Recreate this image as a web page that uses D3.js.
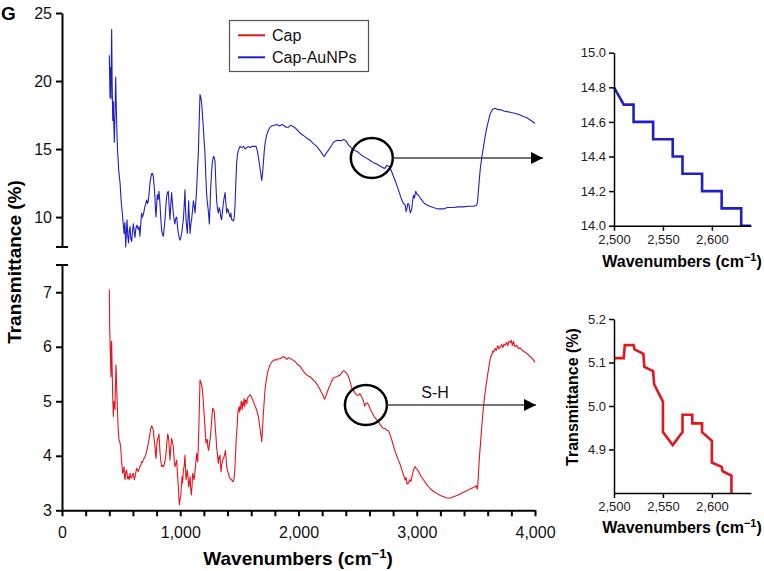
<!DOCTYPE html>
<html><head><meta charset="utf-8">
<script src="https://cdn.jsdelivr.net/npm/d3@7"></script>
<style>body{margin:0;background:#fff}svg{display:block;font-family:"Liberation Sans",Arial,sans-serif}</style>
</head><body><svg id="c" width="764" height="571"></svg>
<script>
// ---------------- data ----------------
const seriesNames = ["Cap", "Cap-AuNPs"];
const capAuNPs = [[400,21.9],[406,18.8],[410,21.0],[414,18.7],[418,22.5],[420,23.8],[424,20.0],[429,17.1],[434,18.5],[438,16.8],[443,15.5],[449,18.0],[454,20.3],[458,18.5],[462,17.1],[467,15.5],[471,14.7],[481,13.3],[491,12.5],[500,11.2],[510,10.3],[518,9.5],[525,8.8],[532,9.6],[539,7.8],[545,9.0],[550,9.8],[556,8.6],[563,8.1],[569,9.0],[575,9.3],[582,8.4],[589,8.2],[596,8.9],[603,9.5],[610,9.0],[617,8.5],[624,9.1],[631,9.4],[638,9.3],[645,9.1],[652,9.3],[659,8.6],[666,9.5],[673,10.3],[680,10.0],[688,10.2],[695,10.5],[702,10.8],[709,11.0],[716,11.25],[723,11.0],[730,11.2],[737,11.8],[744,12.5],[751,12.9],[758,13.2],[765,13.2],[772,13.0],[779,12.3],[786,11.5],[790,10.6],[795,10.0],[800,10.8],[806,11.65],[813,11.3],[820,11.9],[825,11.4],[829,10.9],[836,9.8],[843,9.0],[850,8.7],[857,8.6],[864,9.2],[871,9.8],[878,10.8],[885,11.5],[892,11.8],[899,11.9],[906,10.8],[913,9.8],[920,10.9],[927,11.8],[934,11.0],[941,10.3],[948,9.8],[955,9.5],[962,9.9],[970,10.0],[977,9.3],[984,8.8],[991,8.5],[998,8.3],[1005,8.5],[1012,8.8],[1019,9.3],[1026,9.8],[1033,10.8],[1040,12.0],[1045,10.5],[1049,9.8],[1055,9.2],[1060,8.8],[1066,10.0],[1071,11.2],[1077,9.8],[1083,8.8],[1090,9.5],[1097,9.9],[1104,10.5],[1111,11.2],[1118,10.8],[1125,10.3],[1132,11.2],[1139,12.1],[1146,13.5],[1153,14.7],[1160,17.0],[1167,19.0],[1174,18.8],[1181,18.4],[1188,17.5],[1195,16.6],[1202,15.6],[1209,14.7],[1216,13.0],[1223,11.7],[1230,11.0],[1237,10.5],[1246,9.5],[1252,10.8],[1257,12.0],[1264,13.2],[1271,14.0],[1280,14.45],[1287,14.4],[1294,14.1],[1301,12.5],[1308,11.2],[1315,10.6],[1322,10.3],[1329,10.7],[1336,10.5],[1343,10.0],[1350,9.8],[1357,10.4],[1364,11.0],[1371,11.4],[1379,11.8],[1386,11.0],[1393,10.3],[1400,10.6],[1407,10.5],[1414,10.2],[1421,10.0],[1428,10.3],[1435,9.8],[1442,9.8],[1449,9.7],[1456,9.9],[1463,10.8],[1470,12.5],[1477,14.0],[1484,14.6],[1492,14.9],[1506,15.2],[1520,15.1],[1535,15.2],[1550,15.0],[1562,15.1],[1575,15.2],[1590,15.1],[1607,15.2],[1625,15.2],[1641,15.2],[1651,14.9],[1661,14.4],[1671,13.8],[1681,13.2],[1689,12.7],[1696,13.2],[1703,14.0],[1710,14.8],[1717,15.4],[1730,16.0],[1746,16.4],[1760,16.6],[1774,16.7],[1795,16.75],[1816,16.8],[1840,16.7],[1860,16.8],[1873,16.75],[1895,16.6],[1915,16.6],[1930,16.75],[1943,16.7],[1965,16.6],[1985,16.45],[2010,16.2],[2041,16.0],[2070,15.8],[2098,15.65],[2125,15.4],[2155,15.2],[2180,14.9],[2197,14.7],[2210,14.5],[2219,14.45],[2235,14.7],[2253,14.9],[2275,15.2],[2296,15.5],[2315,15.6],[2338,15.65],[2360,15.6],[2380,15.7],[2394,15.65],[2410,15.5],[2422,15.3],[2445,15.1],[2465,14.95],[2500,14.8],[2520,14.65],[2549,14.45],[2570,14.35],[2600,14.2],[2634,14.0],[2660,13.9],[2690,13.75],[2718,13.6],[2733,13.6],[2747,13.8],[2769,13.7],[2785,13.4],[2803,13.0],[2825,12.5],[2845,12.0],[2860,11.6],[2874,11.25],[2888,11.0],[2902,10.9],[2910,10.4],[2916,10.6],[2925,11.0],[2935,10.9],[2945,10.3],[2958,10.6],[2965,11.2],[2972,11.6],[2980,11.4],[2992,11.9],[3000,11.7],[3015,11.6],[3030,11.4],[3043,11.25],[3065,11.0],[3085,10.9],[3110,10.8],[3141,10.7],[3180,10.6],[3226,10.6],[3260,10.7],[3310,10.7],[3350,10.75],[3395,10.75],[3440,10.8],[3480,10.8],[3500,10.85],[3508,10.9],[3515,11.2],[3522,12.0],[3536,13.45],[3550,14.4],[3565,15.2],[3580,16.0],[3593,16.6],[3607,17.1],[3621,17.6],[3640,17.9],[3663,18.0],[3685,17.9],[3706,17.9],[3735,17.8],[3762,17.75],[3790,17.7],[3818,17.65],[3845,17.6],[3875,17.5],[3900,17.4],[3931,17.3],[3965,17.1],[4000,16.9]];
const cap = [[400,7.05],[403,6.4],[406,6.12],[410,5.8],[414,5.45],[418,6.1],[420,6.09],[424,5.6],[429,5.08],[434,4.72],[438,5.0],[443,4.9],[448,4.85],[452,5.3],[457,5.67],[462,5.3],[468,4.9],[475,4.5],[482,4.29],[489,4.25],[496,4.17],[504,3.9],[513,3.68],[519,3.72],[525,3.8],[529,3.62],[533,3.56],[540,3.7],[547,3.74],[554,3.58],[561,3.62],[568,3.56],[575,3.68],[582,3.6],[589,3.59],[596,3.66],[603,3.68],[608,3.6],[612,3.56],[620,3.64],[631,3.77],[638,3.74],[645,3.71],[652,3.76],[659,3.8],[666,3.82],[673,3.89],[680,3.88],[688,3.92],[695,3.96],[702,3.98],[709,4.02],[716,4.1],[723,4.15],[730,4.23],[737,4.32],[744,4.41],[751,4.5],[758,4.55],[765,4.52],[772,4.47],[779,4.3],[786,4.17],[790,4.05],[795,3.95],[800,4.15],[806,4.29],[813,4.33],[820,4.4],[825,4.2],[829,4.05],[836,3.9],[843,3.8],[850,3.82],[857,3.8],[863,3.83],[870,3.9],[877,3.98],[885,4.2],[894,4.4],[900,4.35],[905,4.23],[913,3.92],[920,4.15],[927,4.32],[934,4.25],[941,4.17],[948,3.95],[955,3.8],[962,3.85],[970,3.92],[977,3.65],[984,3.43],[989,3.2],[993,3.1],[998,3.2],[1004,3.25],[1010,3.45],[1015,3.62],[1020,3.5],[1026,3.74],[1033,3.8],[1040,4.01],[1045,3.75],[1049,3.56],[1055,3.65],[1060,3.74],[1066,3.6],[1071,3.43],[1077,3.5],[1083,3.62],[1088,3.4],[1094,3.28],[1100,3.45],[1105,3.68],[1111,3.62],[1117,3.56],[1124,3.7],[1131,3.86],[1135,3.95],[1139,4.04],[1143,3.95],[1148,3.89],[1153,4.2],[1159,4.66],[1163,5.0],[1167,5.39],[1174,5.35],[1181,5.3],[1188,5.2],[1195,4.99],[1202,4.75],[1209,4.54],[1214,4.35],[1218,4.23],[1224,4.3],[1229,4.29],[1234,4.15],[1240,4.1],[1246,4.2],[1252,4.29],[1259,4.45],[1266,4.66],[1274,4.87],[1281,4.85],[1288,4.8],[1295,4.55],[1302,4.35],[1308,4.15],[1314,4.04],[1318,3.95],[1322,3.86],[1329,3.98],[1336,4.01],[1340,3.85],[1345,3.71],[1352,3.85],[1359,3.92],[1366,3.95],[1373,4.01],[1378,4.05],[1382,4.1],[1388,3.95],[1393,3.8],[1400,3.72],[1407,3.68],[1414,3.62],[1421,3.59],[1428,3.57],[1435,3.56],[1442,3.53],[1449,3.53],[1455,3.58],[1460,3.7],[1464,3.86],[1469,4.1],[1473,4.3],[1478,4.45],[1483,4.6],[1487,4.8],[1492,4.84],[1497,4.9],[1502,4.8],[1506,4.9],[1510,4.85],[1515,5.0],[1520,4.99],[1524,4.85],[1528,4.97],[1534,4.93],[1540,5.05],[1545,4.9],[1550,5.02],[1557,5.02],[1563,4.95],[1568,5.06],[1576,5.08],[1583,5.1],[1590,5.12],[1597,5.1],[1604,5.07],[1614,5.02],[1624,4.96],[1635,4.9],[1647,4.84],[1654,4.78],[1661,4.72],[1668,4.6],[1675,4.5],[1682,4.38],[1689,4.26],[1696,4.5],[1703,4.78],[1710,5.0],[1717,5.21],[1727,5.38],[1737,5.51],[1748,5.6],[1760,5.67],[1774,5.72],[1788,5.75],[1800,5.76],[1816,5.76],[1830,5.78],[1844,5.78],[1858,5.8],[1873,5.82],[1887,5.8],[1901,5.77],[1915,5.8],[1929,5.79],[1950,5.76],[1971,5.73],[1990,5.68],[2014,5.64],[2035,5.57],[2056,5.51],[2078,5.47],[2098,5.45],[2120,5.4],[2140,5.36],[2160,5.3],[2177,5.24],[2192,5.17],[2205,5.12],[2215,5.06],[2222,5.04],[2232,5.1],[2245,5.18],[2257,5.25],[2267,5.3],[2280,5.37],[2293,5.42],[2308,5.44],[2323,5.45],[2338,5.47],[2352,5.48],[2365,5.52],[2380,5.56],[2392,5.55],[2402,5.53],[2412,5.5],[2423,5.45],[2437,5.35],[2451,5.24],[2465,5.2],[2479,5.15],[2493,5.11],[2507,5.11],[2520,5.14],[2535,5.08],[2550,5.0],[2560,4.91],[2570,4.96],[2580,4.97],[2592,4.94],[2606,4.86],[2620,4.8],[2640,4.72],[2662,4.66],[2683,4.6],[2705,4.53],[2720,4.5],[2733,4.5],[2747,4.47],[2761,4.46],[2775,4.38],[2789,4.29],[2803,4.18],[2817,4.08],[2831,4.0],[2845,3.92],[2860,3.84],[2874,3.74],[2888,3.65],[2902,3.56],[2910,3.6],[2918,3.48],[2930,3.5],[2940,3.56],[2950,3.53],[2960,3.62],[2972,3.74],[2985,3.8],[2995,3.77],[3005,3.75],[3015,3.71],[3035,3.63],[3057,3.56],[3085,3.47],[3113,3.4],[3140,3.35],[3170,3.31],[3200,3.27],[3226,3.25],[3250,3.23],[3268,3.22],[3290,3.23],[3310,3.25],[3340,3.27],[3367,3.3],[3395,3.33],[3423,3.36],[3450,3.39],[3480,3.42],[3503,3.45],[3510,3.4],[3514,3.39],[3520,3.6],[3530,3.98],[3540,4.25],[3550,4.53],[3560,4.8],[3570,5.02],[3582,5.22],[3593,5.39],[3604,5.55],[3615,5.7],[3625,5.82],[3635,5.85],[3642,5.92],[3650,5.9],[3663,5.97],[3672,5.93],[3685,6.02],[3694,5.96],[3706,6.0],[3718,6.04],[3727,5.98],[3738,6.05],[3748,6.03],[3760,6.08],[3770,6.02],[3780,6.1],[3790,6.08],[3800,6.12],[3808,6.02],[3818,6.1],[3830,6.0],[3846,6.03],[3860,5.97],[3875,5.98],[3889,5.94],[3910,5.91],[3931,5.88],[3950,5.84],[3974,5.79],[4000,5.72]];
// inset (zoom of S-H region)
const insetAuWn = [2500,2510,2520,2520,2540,2540,2560,2560,2570,2570,2590,2590,2610,2610,2630,2630,2640];
const insetAuT  = [14.8,14.7,14.7,14.6,14.6,14.5,14.5,14.4,14.4,14.3,14.3,14.2,14.2,14.1,14.1,14.0,14.0];
const insetCapWn = [2500,2510,2511,2520,2521,2530,2531,2540,2541,2550,2550,2560,2570,2570,2580,2580,2590,2590,2600,2600,2610,2611,2620,2620];
const insetCapT  = [5.11,5.11,5.14,5.14,5.13,5.12,5.09,5.08,5.05,5.01,4.94,4.91,4.94,4.98,4.98,4.96,4.96,4.94,4.92,4.87,4.86,4.85,4.84,4.80];
const mainXTicks = [0,1000,2000,3000,4000];
const topYTicks = [10,15,20,25];
const botYTicks = [3,4,5,6,7];
const insetXTicks = [2500,2550,2600];
const inset1YTicks = [14.0,14.2,14.4,14.6,14.8,15.0];
const inset2YTicks = [4.9,5.0,5.1,5.2];

const RED = "#e3151e", BLUE = "#1f1fc9";
const svg = d3.select("#c");

// ---------------- scales ----------------
const x = d3.scaleLinear().domain([0,4000]).range([62,535]);
const yTop = d3.scaleLinear().domain([7.8,25]).range([247,13]);
const yBot = d3.scaleLinear().domain([3,7.5]).range([510.3,265]);

const line = (ys) => d3.line().x(d=>x(d[0])).y(d=>ys(d[1]));

svg.append("path").datum(capAuNPs).attr("d", line(yTop)).attr("fill","none").attr("stroke",BLUE).attr("stroke-width",1.1).attr("stroke-linejoin","round");
svg.append("path").datum(cap).attr("d", line(yBot)).attr("fill","none").attr("stroke",RED).attr("stroke-width",1.1).attr("stroke-linejoin","round");

// axes
function styleAxis(g, fs){
  g.selectAll("text").attr("font-size",fs).attr("fill","#111").attr("font-family","Liberation Sans, Arial, sans-serif");
  g.selectAll("line").attr("stroke","#000").attr("stroke-width",2);
  g.select(".domain").attr("stroke","#000").attr("stroke-width",2);
}
const fmtInt = d3.format("d");
const gyT = svg.append("g").attr("transform","translate(62,0)")
  .call(d3.axisLeft(yTop).tickValues(topYTicks).tickSize(6).tickSizeOuter(0).tickPadding(4).tickFormat(fmtInt));
styleAxis(gyT,16);
const gyB = svg.append("g").attr("transform","translate(62,0)")
  .call(d3.axisLeft(yBot).tickValues(botYTicks).tickSize(6).tickSizeOuter(0).tickPadding(4).tickFormat(fmtInt));
styleAxis(gyB,16);
// break caps
[247,265].forEach(yy=>svg.append("line").attr("x1",56).attr("x2",68).attr("y1",yy).attr("y2",yy).attr("stroke","#000").attr("stroke-width",2));

const gx = svg.append("g").attr("transform","translate(0,510.3)")
  .call(d3.axisBottom(x).tickValues(d3.range(0,4001,200)).tickSize(6).tickSizeOuter(0).tickPadding(10)
    .tickFormat(d=> mainXTicks.includes(d) ? d3.format(",")(d) : ""));
styleAxis(gx,16);

// titles
svg.append("text").attr("x",1).attr("y",20).text("G").attr("font-weight","bold").attr("font-size",19);
svg.append("text").attr("transform","translate(21,262) rotate(-90)").attr("text-anchor","middle")
  .attr("font-weight","bold").attr("font-size",19).text("Transmittance (%)");
svg.append("text").attr("x",298).attr("y",565).attr("text-anchor","middle")
  .attr("font-weight","bold").attr("font-size",19).html("Wavenumbers (cm<tspan font-size='13' dy='-7'>−1</tspan><tspan dy='7'>)</tspan>");

// legend
svg.append("rect").attr("x",229.5).attr("y",20.5).attr("width",139).attr("height",51).attr("fill","#fff").attr("stroke","#555").attr("stroke-width",1.2);
[[RED,35.3,seriesNames[0]],[BLUE,57.3,seriesNames[1]]].forEach(([c,yy,t])=>{
  svg.append("line").attr("x1",238).attr("x2",265).attr("y1",yy).attr("y2",yy).attr("stroke",c).attr("stroke-width",2);
  svg.append("text").attr("x",272).attr("y",yy+5.5).attr("font-size",16).attr("fill","#111").text(t);
});

// circles and arrows
svg.append("defs").append("marker").attr("id","ah").attr("viewBox","0 0 10 10").attr("refX",10).attr("refY",5)
  .attr("markerUnits","userSpaceOnUse").attr("markerWidth",18).attr("markerHeight",12).attr("orient","auto")
  .append("path").attr("d","M0,0L10,5L0,10Z").attr("fill","#000");
function marker(cx,cy,x2){
  svg.append("ellipse").attr("cx",x(cx)).attr("cy",cy).attr("rx",21).attr("ry",20).attr("fill","none").attr("stroke","#000").attr("stroke-width",2.5);
  svg.append("line").attr("x1",x(cx)+21).attr("x2",x2).attr("y1",cy).attr("y2",cy).attr("stroke","#444").attr("stroke-width",1.5).attr("marker-end","url(#ah)");
}
marker(2620,158,543);
marker(2570,405,536);
svg.append("text").attr("x",435).attr("y",398).attr("text-anchor","middle").attr("font-size",16).attr("fill","#111").text("S-H");

// ---------------- insets ----------------
const xi = d3.scaleLinear().domain([2500,2640]).range([614,751]);
const yi1 = d3.scaleLinear().domain([14,15]).range([225.7,52.7]);
const yi2 = d3.scaleLinear().domain([4.8,5.2]).range([493,319]);
function styleInset(g){
  g.selectAll("text").attr("font-size",13).attr("fill","#222");
  g.selectAll("line").attr("stroke","#000").attr("stroke-width",1.5);
  g.select(".domain").attr("stroke","#000").attr("stroke-width",1.5);
}
function inset(yS, yTicks, wn, tv, col, bottomY){
  const pts = wn.map((w,i)=>[w,tv[i]]);
  svg.append("path").datum(pts).attr("d", d3.line().x(d=>xi(d[0])).y(d=>yS(d[1])))
    .attr("fill","none").attr("stroke",col).attr("stroke-width",2.6);
  const ga = svg.append("g").attr("transform","translate(614,0)")
    .call(d3.axisLeft(yS).tickValues(yTicks).tickSize(5).tickSizeOuter(0).tickPadding(3).tickFormat(d3.format(".1f")));
  styleInset(ga);
  const gb = svg.append("g").attr("transform",`translate(0,${bottomY})`)
    .call(d3.axisBottom(xi).tickValues(insetXTicks).tickSize(5).tickSizeOuter(0).tickPadding(4).tickFormat(d3.format(",")));
  styleInset(gb);
}
inset(yi1, inset1YTicks, insetAuWn, insetAuT, BLUE, 225.7);
inset(yi2, inset2YTicks, insetCapWn, insetCapT, RED, 493);
[267,533].forEach(yy=>svg.append("text").attr("x",682).attr("y",yy).attr("text-anchor","middle")
  .attr("font-weight","bold").attr("font-size",16).html("Wavenumbers (cm<tspan font-size='11' dy='-6'>−1</tspan><tspan dy='6'>)</tspan>"));
svg.append("text").attr("transform","translate(578,397) rotate(-90)").attr("text-anchor","middle")
  .attr("font-weight","bold").attr("font-size",16).text("Transmittance (%)");
</script></body></html>
